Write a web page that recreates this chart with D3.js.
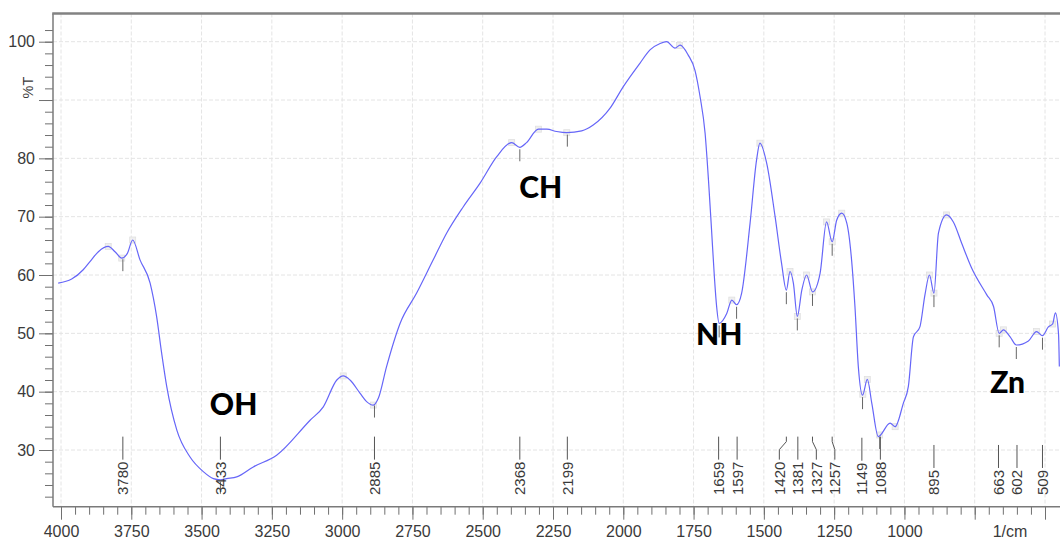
<!DOCTYPE html>
<html>
<head>
<meta charset="utf-8">
<script src="https://cdn.jsdelivr.net/npm/d3@7"></script>
<style>
  body { margin: 0; background: #fff; }
  svg { display: block; }
  text { font-family: "Liberation Sans", Arial, sans-serif; }
</style>
</head>
<body>
<svg width="1060" height="540"></svg>
<script>
// spectrum (wavenumber in 1/cm, %T)
var wavenumbers = [4010, 3962, 3921, 3897, 3867, 3832, 3808, 3784, 3764, 3745, 3719, 3683, 3660, 3642, 3624, 3588, 3541, 3494, 3458, 3433, 3411, 3375, 3316, 3233, 3114, 3067, 3019, 2996, 2972, 2936, 2913, 2889, 2871, 2842, 2794, 2735, 2676, 2628, 2569, 2510, 2450, 2397, 2368, 2344, 2302, 2272, 2237, 2201, 2148, 2107, 2047, 2000, 1941, 1905, 1869, 1846, 1816, 1798, 1769, 1745, 1727, 1709, 1697, 1686, 1676, 1668, 1659, 1632, 1614, 1597, 1579, 1549, 1526, 1514, 1490, 1460, 1437, 1420, 1407, 1395, 1381, 1365, 1348, 1327, 1300, 1277, 1257, 1241, 1223, 1205, 1188, 1176, 1164, 1149, 1132, 1116, 1093, 1051, 1033, 1004, 986, 968, 945, 927, 911, 895, 879, 850, 826, 796, 761, 707, 683, 663, 648, 624, 602, 559, 530, 509, 488, 473, 463, 452, 449];
var transmittance = [58.6, 59.3, 60.9, 62.3, 64.0, 64.9, 64.0, 62.9, 63.7, 66.0, 62.6, 58.6, 52.9, 46.6, 40.9, 33.4, 28.8, 26.3, 25.1, 24.9, 25.1, 25.4, 27.1, 29.1, 35.1, 37.4, 42.0, 42.7, 42.0, 39.7, 38.3, 37.7, 38.9, 44.3, 51.7, 56.9, 62.6, 67.2, 71.7, 75.7, 80.3, 82.7, 81.9, 82.7, 85.0, 85.0, 84.6, 84.4, 84.7, 85.7, 88.6, 92.3, 96.3, 98.6, 99.7, 100, 98.9, 99.4, 97.7, 95.1, 90.6, 84.3, 76.3, 67.7, 59.7, 54.6, 51.7, 53.4, 55.7, 54.9, 56.9, 68.9, 79.7, 82.6, 79.2, 70.0, 62.0, 57.4, 60.6, 58.6, 52.9, 57.4, 60.0, 57.1, 60.3, 69.1, 65.7, 69.4, 70.6, 68.9, 62.6, 54.6, 44.3, 39.4, 42.1, 38.0, 32.3, 34.6, 34.0, 38.0, 40.9, 49.4, 51.1, 56.6, 60.0, 56.9, 67.2, 70.3, 69.1, 65.4, 61.2, 56.6, 54.6, 50.0, 50.6, 49.4, 48.0, 48.7, 50.3, 49.6, 51.1, 51.6, 53.5, 50.0, 44.3];

// picked peaks (labelled)
var peaks = [3780, 3433, 2885, 2368, 2199, 1659, 1597, 1420, 1381, 1327, 1257, 1149, 1088, 895, 663, 602, 509];
// small grey peak-pick boxes
var pickBoxes = [3832, 3784, 3745, 2996, 2889, 2397, 2302, 2201, 1800, 1614, 1514, 1407, 1381, 1348, 1327, 1277, 1257, 1223, 1148, 1132, 1088, 1033, 911, 895, 850, 663, 648, 530, 473];

// group annotations
var groupNames = ['OH', 'CH', 'NH', 'Zn'];
var groupWn = [3386, 2294, 1659, 633];
var groupT = [36.0, 73.2, 48.0, 39.8];

var xTickLabels = [4000, 3750, 3500, 3250, 3000, 2750, 2500, 2250, 2000, 1750, 1500, 1250, 1000];
var xMajor = d3.range(4000, 499, -250);
var xMinor = d3.range(4000, 499, -50);
var yTickLabels = [30, 40, 50, 60, 70, 80, 100];
var yMajor = [30, 40, 50, 60, 70, 80, 90, 100];
var yMinor = d3.range(22, 103, 2);

var svg = d3.select('svg');
var width = +svg.attr('width');
var height = +svg.attr('height');

var plotLeft = 53, plotTop = 13.5, plotBottom = 506.7, plotRight = 1060;

var x = d3.scaleLinear().domain([4000, 500]).range([61, 1045]);
var y = d3.scaleLinear().domain([100, 30]).range([41.7, 450]);

svg.append('defs').append('clipPath').attr('id', 'plotclip')
  .append('rect')
  .attr('x', plotLeft).attr('y', plotTop)
  .attr('width', plotRight - plotLeft).attr('height', plotBottom - plotTop);

// grid
var grid = svg.append('g').attr('clip-path', 'url(#plotclip)');
grid.selectAll('vgrid')
  .data(xMajor)
  .enter()
  .append('line')
  .attr('x1', function(d) { return x(d); })
  .attr('x2', function(d) { return x(d); })
  .attr('y1', plotTop).attr('y2', plotBottom)
  .style('stroke', '#e4e4e4')
  .style('stroke-dasharray', '4,2');
grid.selectAll('hgrid')
  .data(yMajor)
  .enter()
  .append('line')
  .attr('x1', plotLeft).attr('x2', plotRight)
  .attr('y1', function(d) { return y(d); })
  .attr('y2', function(d) { return y(d); })
  .style('stroke', '#e4e4e4')
  .style('stroke-dasharray', '4,2');

// interpolate %T at a wavenumber from the read values
function tAt(wn) {
  for (var i = 0; i < wavenumbers.length - 1; i++) {
    var a = wavenumbers[i], b = wavenumbers[i + 1];
    if (wn <= a && wn >= b) {
      var f = (a - wn) / (a - b);
      return transmittance[i] + f * (transmittance[i + 1] - transmittance[i]);
    }
  }
  return transmittance[transmittance.length - 1];
}

var plot = svg.append('g').attr('clip-path', 'url(#plotclip)');

plot.selectAll('pickbox')
  .data(pickBoxes)
  .enter()
  .append('rect')
  .attr('x', function(d) { return x(d) - 3; })
  .attr('y', function(d) { return y(tAt(d)) - 3; })
  .attr('width', 6).attr('height', 6)
  .attr('fill', '#efefef')
  .attr('stroke', '#e0e0e0')
  .attr('stroke-width', 0.8);

var line = d3.line()
  .x(function(d, i) { return x(wavenumbers[i]); })
  .y(function(d, i) { return y(transmittance[i]); })
  .curve(d3.curveMonotoneX);

plot.append('path')
  .datum(transmittance)
  .attr('d', line)
  .attr('fill', 'none')
  .attr('stroke', '#6666f8')
  .attr('stroke-width', 1.2);

// short marks under the picked peaks
plot.selectAll('peakmark')
  .data(peaks)
  .enter()
  .append('line')
  .attr('x1', function(d) { return x(d); })
  .attr('x2', function(d) { return x(d); })
  .attr('y1', function(d) { return y(tAt(d)) + 2; })
  .attr('y2', function(d) { return y(tAt(d)) + 14; })
  .style('stroke', '#666')
  .style('stroke-width', 1);

// peak labels, pushed apart where crowded
function spreadLabels(xs, gap) {
  var p = xs.slice();
  for (var k = 0; k < 200; k++) {
    for (var i = 0; i < p.length - 1; i++) {
      var d = p[i + 1] - p[i];
      if (d < gap) {
        var s = (gap - d) / 2;
        p[i] -= s;
        p[i + 1] += s;
      }
    }
  }
  return p;
}
var trueX = peaks.map(function(d) { return x(d); });
var labelX = spreadLabels(trueX, 18.5);
var textBase = 495;

var peakLabels = svg.append('g');
peaks.forEach(function(wn, i) {
  var t = peakLabels.append('text')
    .attr('transform', 'translate(' + labelX[i] + ',' + textBase + ') rotate(-90)')
    .attr('dominant-baseline', 'central')
    .attr('font-size', 15)
    .attr('fill', '#3a3a3a')
    .text(wn);
  var len = t.node().getComputedTextLength();
  var lb = textBase - len - 2;
  var lt = lb - 23;
  var path;
  if (Math.abs(labelX[i] - trueX[i]) > 1) {
    path = 'M' + trueX[i] + ',' + lt + 'V' + (lt + 5) + 'L' + labelX[i] + ',' + (lt + 13) + 'V' + lb;
  } else {
    path = 'M' + labelX[i] + ',' + lt + 'V' + lb;
  }
  peakLabels.append('path')
    .attr('d', path)
    .attr('fill', 'none')
    .attr('stroke', '#555')
    .attr('stroke-width', 1);
});

// group annotations
groupNames.forEach(function(name, i) {
  svg.append('text')
    .attr('x', x(groupWn[i]))
    .attr('y', y(groupT[i]))
    .attr('text-anchor', 'middle')
    .style('font-family', 'Lato, "Noto Sans", sans-serif')
    .style('font-weight', 900)
    .style('font-size', '30px')
    .attr('fill', '#000')
    .text(name);
});

// axes
var xAxisMinor = d3.axisBottom(x).tickValues(xMinor).tickSize(8).tickFormat('');
var xAxis = d3.axisBottom(x).tickValues(xMajor).tickSize(13).tickPadding(6)
  .tickFormat(function(d) { return xTickLabels.indexOf(d) >= 0 ? d : ''; });
var yAxisMinor = d3.axisLeft(y).tickValues(yMinor).tickSize(8).tickFormat('');
var yAxis = d3.axisLeft(y).tickValues(yMajor).tickSize(14).tickPadding(4)
  .tickFormat(function(d) { return yTickLabels.indexOf(d) >= 0 ? d : ''; });

function styleAxis(g) {
  g.select('.domain').remove();
  g.selectAll('line').style('stroke', '#707070');
  g.selectAll('text').style('fill', '#3a3a3a').style('font-size', '16px')
    .style('font-family', '"Liberation Sans", Arial, sans-serif');
}

svg.append('g').attr('transform', 'translate(0,' + plotBottom + ')').call(xAxisMinor).call(styleAxis);
svg.append('g').attr('transform', 'translate(0,' + plotBottom + ')').call(xAxis).call(styleAxis);
svg.append('g').attr('transform', 'translate(' + plotLeft + ',0)').call(yAxisMinor).call(styleAxis);
svg.append('g').attr('transform', 'translate(' + plotLeft + ',0)').call(yAxis).call(styleAxis);

// frame
svg.append('line').attr('x1', plotLeft).attr('x2', plotRight).attr('y1', plotBottom).attr('y2', plotBottom)
  .style('stroke', '#7a7a7a').style('stroke-width', 1.5);
svg.append('line').attr('x1', plotLeft).attr('x2', plotLeft).attr('y1', plotTop).attr('y2', plotBottom)
  .style('stroke', '#7a7a7a').style('stroke-width', 1.5);
svg.append('line').attr('x1', plotLeft - 0.75).attr('x2', plotRight).attr('y1', plotTop).attr('y2', plotTop)
  .style('stroke', '#828282').style('stroke-width', 2.5);

svg.append('text')
  .attr('x', 1010).attr('y', plotBottom + 19)
  .attr('dy', '0.71em')
  .attr('text-anchor', 'middle')
  .style('font-size', '16px')
  .attr('fill', '#3a3a3a')
  .text('1/cm');

svg.append('text')
  .attr('transform', 'translate(27.5,87.5) rotate(-90)')
  .attr('text-anchor', 'middle')
  .attr('dominant-baseline', 'central')
  .style('font-size', '14.5px')
  .attr('fill', '#3a3a3a')
  .text('%T');
</script>
</body>
</html>
